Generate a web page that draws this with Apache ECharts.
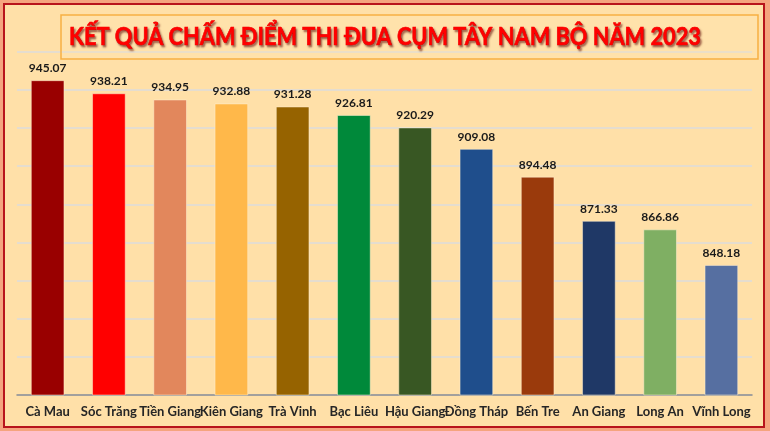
<!DOCTYPE html>
<html>
<head>
<meta charset="utf-8">
<script src="https://cdn.jsdelivr.net/npm/echarts@6/dist/echarts.min.js"></script>
<style>
html,body{margin:0;padding:0;}
#wrap{position:relative;width:770px;height:431px;background:#F5A47E;}
#inner{position:absolute;left:3px;top:3px;width:758px;height:421px;border:2px solid #B8141B;background:#FFE0A8;}
#chart{position:absolute;left:0;top:0;width:770px;height:431px;}
</style>
</head>
<body>
<div id="wrap"><div id="inner"></div><div id="chart"></div></div>
<script>
const titleText = 'KẾT QUẢ CHẤM ĐIỂM THI ĐUA CỤM TÂY NAM BỘ NĂM 2023';
const categories = ['Cà Mau','Sóc Trăng','Tiền Giang','Kiên Giang','Trà Vinh','Bạc Liêu','Hậu Giang','Đồng Tháp','Bến Tre','An Giang','Long An','Vĩnh Long'];
const scores = [945.07, 938.21, 934.95, 932.88, 931.28, 926.81, 920.29, 909.08, 894.48, 871.33, 866.86, 848.18];
const barColors = ['#990000','#FF0000','#E2875C','#FFB84A','#966300','#00893A','#385723','#1F4E8C','#9A3A0C','#1F3866','#7FAF63','#566FA1'];

const titleFont = 'bold 25px Lato';
const cv = document.createElement('canvas').getContext('2d');
cv.font = titleFont;
const tw = cv.measureText(titleText).width || 730;
const titleScale = 632 / tw;

const chart = echarts.init(document.getElementById('chart'), null, {renderer:'canvas'});
chart.setOption({
  backgroundColor: 'transparent',
  animation: false,
  graphic: [{
    type: 'rect', z: 100,
    shape: {x: 61, y: 15, width: 697, height: 44},
    style: {fill: 'rgba(255,230,180,0.25)', stroke: '#F7B043', lineWidth: 1.5}
  }, {
    type: 'text', z: 101,
    x: 69, y: 37, scaleX: titleScale, scaleY: 1,
    style: {
      text: titleText, font: titleFont, fill: '#FF0000',
      textVerticalAlign: 'middle', verticalAlign: 'middle', align: 'left',
      textShadowColor: 'rgba(90,0,0,0.55)', textShadowBlur: 2, textShadowOffsetX: 1.5, textShadowOffsetY: 1.5,
      stroke: '#F00000', lineWidth: 0.6
    }
  }],
  grid: {left: 17, right: 18, top: 51.7, bottom: 36, containLabel: false},
  xAxis: {
    type: 'category', data: categories,
    axisLine: {lineStyle: {color: '#8C8C8C', width: 1.5}},
    axisTick: {show: false},
    axisLabel: {interval: 0, margin: 10, fontFamily: 'Lato', fontWeight: 'bold', fontSize: 13, color: '#262626'}
  },
  yAxis: {
    type: 'value', min: 780, max: 960, interval: 20,
    axisLine: {show: false}, axisTick: {show: false}, axisLabel: {show: false},
    splitLine: {lineStyle: {color: '#DCDCDC', width: 1.5}}
  },
  series: [{
    type: 'bar', barWidth: '55%',
    data: scores.map((v, i) => ({value: v, itemStyle: {color: barColors[i]}})),
    itemStyle: {borderColor: 'rgba(255,240,210,0.5)', borderWidth: 1},
    label: {show: true, position: 'top', distance: 6, fontFamily: 'Lato', fontWeight: 'bold', fontSize: 12, color: '#1A1A1A',
      formatter: p => p.value.toFixed(2)}
  }]
});
</script>
</body>
</html>
